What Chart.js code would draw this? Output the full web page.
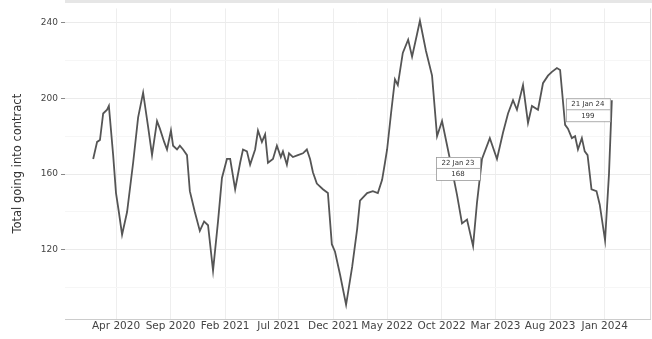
<!DOCTYPE html>
<html>
<head>
<meta charset="utf-8">
<script src="https://cdn.jsdelivr.net/npm/chart.js@4/dist/chart.umd.min.js"></script>
<style>
  html, body { margin: 0; padding: 0; background: #fff; }
  #wrap { width: 652px; height: 339px; }
</style>
</head>
<body>
<div id="wrap"><canvas id="chart"></canvas></div>
<script>
// Weekly-ish readings
const dates = [
  '2020-01-28','2020-02-08','2020-02-16','2020-02-25','2020-03-07','2020-03-12','2020-03-24','2020-04-01','2020-04-09','2020-04-18',
  '2020-05-02','2020-05-19','2020-06-02','2020-06-16','2020-06-30','2020-07-11','2020-07-25','2020-08-02','2020-08-14','2020-08-22',
  '2020-09-02','2020-09-08','2020-09-19','2020-09-27','2020-10-06','2020-10-17','2020-10-25','2020-11-08','2020-11-22','2020-12-04',
  '2020-12-15','2020-12-29',
  '2021-01-12','2021-01-23','2021-02-06','2021-02-15','2021-03-01','2021-03-15','2021-03-23','2021-04-03','2021-04-12','2021-04-26',
  '2021-05-04','2021-05-15','2021-05-24','2021-06-01','2021-06-15','2021-06-26','2021-07-07','2021-07-13','2021-07-24','2021-07-30',
  '2021-08-10','2021-08-24','2021-09-07','2021-09-18','2021-09-27','2021-10-05','2021-10-16','2021-11-02','2021-11-16','2021-11-27',
  '2021-12-06','2021-12-20',
  '2022-01-06','2022-01-23','2022-02-06','2022-02-14','2022-03-06','2022-03-22','2022-04-05','2022-04-17','2022-04-25','2022-05-01',
  '2022-05-12','2022-05-23','2022-05-31','2022-06-14','2022-06-29','2022-07-10','2022-07-24','2022-08-01','2022-08-18','2022-09-04',
  '2022-09-18','2022-10-02','2022-10-24','2022-11-13','2022-11-27','2022-12-11','2022-12-28',
  '2023-01-08','2023-01-22','2023-02-13','2023-03-05','2023-03-22','2023-04-05','2023-04-19','2023-04-30','2023-05-17','2023-05-31',
  '2023-06-11','2023-06-28','2023-07-12','2023-07-26','2023-08-06','2023-08-20','2023-08-29','2023-09-12','2023-09-20','2023-10-01',
  '2023-10-10','2023-10-18','2023-10-29','2023-11-06','2023-11-14','2023-11-25','2023-12-09','2023-12-18',
  '2024-01-02','2024-01-13','2024-01-21'
];
const totals = [
  168,177,178,192,194,196,170,150,140,128,
  140,166,190,203,185,170,188,184,177,173,
  183,175,173,175,173,170,151,140,130,135,
  133,109,
  135,158,168,168,152,166,173,172,165,173,
  183,177,181,166,168,175,169,172,165,171,
  169,170,171,173,168,161,155,152,150,123,
  119,107,
  91,111,131,146,150,151,150,157,166,173,
  192,210,207,224,231,222,234,241,225,212,
  180,188,168,149,134,136,122,
  145,168,179,168,182,192,199,194,207,187,
  196,194,208,212,214,216,215,186,184,179,
  180,173,179,172,170,152,151,144,
  125,160,199
];
const tickDates = ['2020-04-01','2020-09-01','2021-02-01','2021-07-01','2021-12-01','2022-05-01','2022-10-01','2023-03-01','2023-08-01','2024-01-01'];
const tickLabels = ['Apr 2020','Sep 2020','Feb 2021','Jul 2021','Dec 2021','May 2022','Oct 2022','Mar 2023','Aug 2023','Jan 2024'];
const yTicks = [120, 160, 200, 240];
const noteDates = ['2023-01-22', '2024-01-21'];

const t0 = Date.parse('2020-01-01');
function dayOf(s) { return (Date.parse(s) - t0) / 86400000; }
const monthNames = ['Jan','Feb','Mar','Apr','May','Jun','Jul','Aug','Sep','Oct','Nov','Dec'];
function shortDate(s) {
  const d = new Date(s);
  return d.getUTCDate() + ' ' + monthNames[d.getUTCMonth()] + ' ' + String(d.getUTCFullYear()).slice(2);
}

const points = dates.map((d, i) => ({ x: dayOf(d), y: totals[i] }));

// boxes hanging off the left of the two January points
const notePlugin = {
  id: 'notes',
  beforeDraw(chart) {
    const ctx = chart.ctx, a = chart.chartArea;
    ctx.save();
    ctx.fillStyle = '#e6e6e6';
    ctx.fillRect(a.left, 0, a.right - a.left + 2, 3);
    ctx.restore();
  },
  afterDraw(chart) {
    const ctx = chart.ctx, a = chart.chartArea;
    const xs = chart.scales.x, ys = chart.scales.y;
    ctx.save();
    ctx.strokeStyle = '#d9d9d9';
    ctx.lineWidth = 1;
    ctx.beginPath();
    ctx.moveTo(a.right + 0.5, a.top);
    ctx.lineTo(a.right + 0.5, a.bottom);
    ctx.stroke();
    noteDates.forEach(nd => {
      const i = dates.indexOf(nd);
      const px = xs.getPixelForValue(points[i].x);
      const py = ys.getPixelForValue(points[i].y);
      const l = px - 46, t = py - 2, w = 44, h = 23;
      ctx.fillStyle = '#fff';
      ctx.fillRect(l, t, w, h);
      ctx.strokeStyle = '#999';
      ctx.lineWidth = 0.8;
      ctx.strokeRect(l + 0.5, t + 0.5, w, h);
      ctx.beginPath();
      ctx.moveTo(l + 0.5, t + 11.5);
      ctx.lineTo(l + w + 0.5, t + 11.5);
      ctx.stroke();
      ctx.fillStyle = '#333';
      ctx.font = '7px "DejaVu Sans"';
      ctx.textAlign = 'center';
      ctx.textBaseline = 'middle';
      ctx.fillText(shortDate(nd), l + w / 2, t + 6);
      ctx.fillText(String(points[i].y), l + w / 2, t + 17.5);
    });
    ctx.restore();
  }
};

new Chart(document.getElementById('chart'), {
  type: 'line',
  data: {
    datasets: [{
      data: points,
      borderColor: '#555',
      borderWidth: 1.8,
      pointRadius: 0,
      tension: 0,
      fill: false
    }]
  },
  options: {
    responsive: true,
    maintainAspectRatio: false,
    animation: false,
    events: [],
    layout: { padding: { left: 0, right: 2, top: 5, bottom: 0 } },
    plugins: { legend: { display: false }, tooltip: { enabled: false } },
    scales: {
      x: {
        type: 'linear',
        min: -52,
        max: 1588,
        afterBuildTicks: s => { s.ticks = tickDates.map(d => ({ value: dayOf(d) })); },
        afterFit: s => { s.height = 20; },
        ticks: {
          autoSkip: false, maxRotation: 0, padding: 1,
          color: '#444', font: { family: 'DejaVu Sans', size: 10.5 },
          callback: v => tickLabels[tickDates.findIndex(d => dayOf(d) === v)]
        },
        grid: { color: '#eeeeee', drawTicks: false },
        border: { display: true, color: '#cccccc' }
      },
      y: {
        min: 83.5,
        max: 247.5,
        afterBuildTicks: s => {
          const t = [];
          for (let v = 100; v <= 240; v += 20) t.push({ value: v });
          s.ticks = t;
        },
        afterFit: s => { s.width = 65; },
        ticks: {
          padding: 3,
          color: '#444', font: { family: 'DejaVu Sans', size: 9 },
          callback: v => yTicks.includes(v) ? String(v) : ''
        },
        grid: {
          color: c => yTicks.includes(c.tick.value) ? '#ebebeb' : '#f6f6f6',
          tickColor: c => yTicks.includes(c.tick.value) ? '#888' : 'rgba(0,0,0,0)',
          tickLength: 4
        },
        border: { display: false },
        title: {
          display: true,
          text: 'Total going into contract',
          color: '#333',
          font: { family: 'DejaVu Sans', size: 11.5 },
          padding: { top: 11, bottom: 0 }
        }
      }
    }
  },
  plugins: [notePlugin]
});
</script>
</body>
</html>
